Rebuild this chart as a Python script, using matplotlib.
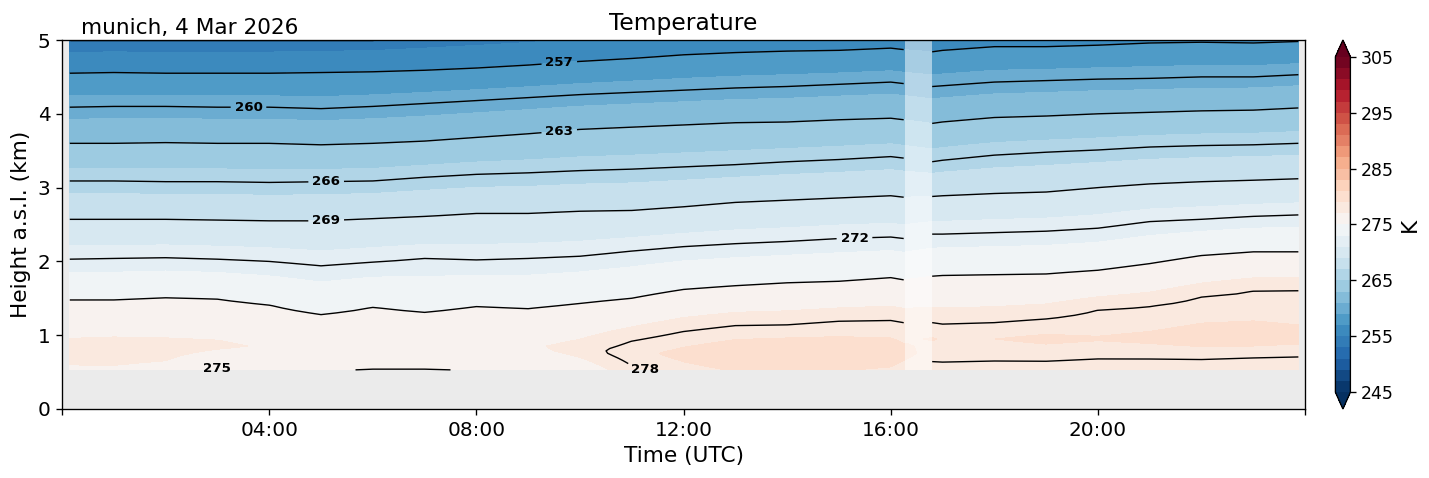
import numpy as np
import matplotlib
matplotlib.use("Agg")
import matplotlib.pyplot as plt

# time of each profile (hours UTC), gap in the data between 16.25 and 16.8
times = [0.15, 1, 2, 3, 4, 5, 6, 7, 8, 9, 10, 11, 12, 13, 14, 15, 16, 16.25,
         16.8, 17, 18, 19, 20, 21, 22, 23, 23.87]
gap_start, gap_end = 16.27, 16.79

# heights (km) of the isotherms
z254 = [4.97, 4.98, 4.97, 4.97, 4.98, 4.99, 5.00, 5.04, 5.08, 5.12, 5.17, 5.20, 5.24, 5.28,
        5.30, 5.32, 5.34, 5.33, 5.30, 5.31, 5.35, 5.36, 5.38, 5.41, 5.42, 5.42, 5.44]
z257 = [4.55, 4.56, 4.55, 4.55, 4.55, 4.56, 4.57, 4.59, 4.62, 4.66, 4.71, 4.75, 4.80, 4.83,
        4.85, 4.86, 4.89, 4.87, 4.84, 4.86, 4.91, 4.91, 4.93, 4.96, 4.97, 4.96, 4.98]
z260 = [4.09, 4.10, 4.10, 4.09, 4.09, 4.07, 4.10, 4.14, 4.18, 4.22, 4.26, 4.29, 4.32, 4.35,
        4.37, 4.40, 4.43, 4.41, 4.37, 4.38, 4.43, 4.45, 4.47, 4.48, 4.50, 4.50, 4.53]
z263 = [3.60, 3.60, 3.61, 3.60, 3.60, 3.58, 3.60, 3.63, 3.68, 3.73, 3.79, 3.82, 3.85, 3.88,
        3.89, 3.92, 3.94, 3.92, 3.87, 3.89, 3.95, 3.97, 4.00, 4.02, 4.04, 4.05, 4.08]
z266 = [3.09, 3.09, 3.08, 3.08, 3.07, 3.08, 3.09, 3.14, 3.18, 3.20, 3.23, 3.25, 3.28, 3.31,
        3.35, 3.38, 3.42, 3.40, 3.35, 3.37, 3.44, 3.48, 3.51, 3.55, 3.57, 3.58, 3.60]
z269 = [2.57, 2.57, 2.57, 2.56, 2.55, 2.55, 2.58, 2.61, 2.65, 2.65, 2.68, 2.69, 2.74, 2.80,
        2.83, 2.86, 2.89, 2.87, 2.88, 2.89, 2.92, 2.94, 3.00, 3.05, 3.08, 3.10, 3.12]
z272 = [2.03, 2.04, 2.05, 2.03, 2.00, 1.94, 1.99, 2.04, 2.02, 2.04, 2.07, 2.14, 2.20, 2.24,
        2.27, 2.31, 2.33, 2.31, 2.37, 2.37, 2.39, 2.41, 2.45, 2.54, 2.57, 2.61, 2.63]
z275 = [1.48, 1.48, 1.51, 1.49, 1.41, 1.28, 1.38, 1.31, 1.39, 1.36, 1.43, 1.50, 1.62, 1.67,
        1.71, 1.73, 1.78, 1.75, 1.80, 1.81, 1.82, 1.83, 1.88, 1.97, 2.08, 2.13, 2.13]
nan = np.nan
z278 = [nan, nan, nan, nan, nan, nan, nan, nan, nan, nan, nan, 0.92, 1.05, 1.13,
        1.14, 1.19, 1.20, 1.17, 1.17, 1.15, 1.17, 1.22, 1.34, 1.39, 1.52, 1.60, 1.61]

# lowest range gate and the warm layer just above it
z_bottom = 0.53
t_bottom = [276.8, 276.8, 276.5, 274.9, 275.4, 275.1, 274.95, 274.95, 275.05, 275.2, 276.0,
            277.8, 278.6, 279.1, 279.2, 279.1, 278.8, 278.3, 277.6, 277.7, 277.6, 277.5,
            277.4, 277.3, 277.2, 277.0, 277.0]
z_warm = [0.80, 0.80, 0.80, 0.85, 0.85, 0.85, 0.85, 0.85, 0.85, 0.85, 0.80, 0.75, 0.75, 0.75,
          0.75, 0.75, 0.75, 0.75, 0.95, 0.95, 0.95, 0.95, 0.95, 0.95, 0.95, 0.95, 0.95]
t_warm = [277.6, 277.7, 277.6, 277.3, 276.8, 276.6, 276.6, 276.6, 276.7, 276.8, 277.6,
          278.6, 279.4, 280.0, 280.2, 280.1, 279.9, 279.5, 279.1, 278.9, 279.0, 279.3,
          279.1, 279.3, 279.6, 279.6, 279.4]

iso_levels = [278, 275, 272, 269, 266, 263, 260, 257, 254]
iso_heights = [z278, z275, z272, z269, z266, z263, z260, z257, z254]

# label positions (time, height) for the isotherm labels
label_pos = [(9.6, 4.70), (3.6, 4.09), (9.6, 3.76), (5.1, 3.08), (5.1, 2.55),
             (15.3, 2.31), (3.0, 0.54), (11.4, 0.62)]

# build the temperature field column by column from the profile points
times = np.array(times)
z = np.linspace(z_bottom, 5.0, 140)
T = np.zeros((len(z), len(times)))
for j in range(len(times)):
    kz = [z_bottom, z_warm[j]]
    kt = [t_bottom[j], t_warm[j]]
    for lev, hh in zip(iso_levels, iso_heights):
        if np.isfinite(hh[j]):
            kz.append(hh[j])
            kt.append(lev)
    T[:, j] = np.interp(z, kz, kt)

fig = plt.figure(figsize=(14.29, 4.78), dpi=100)
ax = fig.add_axes([0.0434, 0.1444, 0.8699, 0.7719])
ax.set_facecolor("#ebebeb")

levels = np.arange(245, 306, 2)
cf = ax.contourf(times, z, T, levels=levels, cmap="RdBu_r", extend="both")

ax.fill_between([gap_start, gap_end], z_bottom, 5.0, color="white", alpha=0.5, lw=0)

ax.set_xlim(0, 24)
ax.set_ylim(0, 5)

line_levels = np.arange(254, 280, 3)
left = times <= gap_start
right = times >= gap_end
cs = ax.contour(times[left], z, T[:, left], levels=line_levels, colors="black", linewidths=1.0)
ax.contour(times[right], z, T[:, right], levels=line_levels, colors="black", linewidths=1.0)
labels = ax.clabel(cs, fmt="%d", fontsize=9.6, inline=True, manual=label_pos)
for t in labels:
    t.set_fontweight("bold")
    t.set_rotation(0)

for s in ax.spines.values():
    s.set_linewidth(0.96)
ax.set_xticks(np.arange(0, 25, 4))
ax.set_xticklabels(["", "04:00", "08:00", "12:00", "16:00", "20:00", ""])
ax.set_yticks(range(6))
ax.tick_params(labelsize=14.4, length=4.2, width=0.96, pad=4.2)
ax.set_xlabel("Time (UTC)", fontsize=15.6, labelpad=4.8)
ax.set_ylabel("Height a.s.l. (km)", fontsize=15.6, labelpad=4.8)
ax.set_title("Temperature", fontsize=16.8, pad=7)
ax.text(0.015, 1.006, "munich, 4 Mar 2026", transform=ax.transAxes, fontsize=15.6,
        ha="left", va="bottom")

cax = fig.add_axes([0.9345, 0.1444, 0.0105, 0.7719])
cb = fig.colorbar(cf, cax=cax, ticks=np.arange(245, 306, 10))
cb.ax.tick_params(labelsize=12.5, length=4.2, width=0.96)
cb.outline.set_linewidth(0.96)
cb.set_label("K", fontsize=15.6)

fig.savefig("out.png", dpi=100)
